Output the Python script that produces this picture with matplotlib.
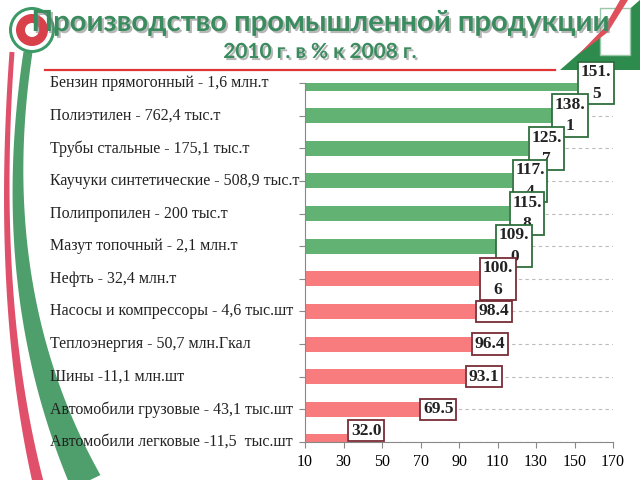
import numpy as np
import matplotlib
matplotlib.use("Agg")
import matplotlib.pyplot as plt
import matplotlib.patheffects as pe
from matplotlib.patches import Polygon, Ellipse, Rectangle
from matplotlib.lines import Line2D
from matplotlib.transforms import blended_transform_factory

# data: 2010 output in % of 2008
products = [
    "Бензин прямогонный - 1,6 млн.т",
    "Полиэтилен - 762,4 тыс.т",
    "Трубы стальные - 175,1 тыс.т",
    "Каучуки синтетические - 508,9 тыс.т",
    "Полипропилен - 200 тыс.т",
    "Мазут топочный - 2,1 млн.т",
    "Нефть - 32,4 млн.т",
    "Насосы и компрессоры - 4,6 тыс.шт",
    "Теплоэнергия - 50,7 млн.Гкал",
    "Шины -11,1 млн.шт",
    "Автомобили грузовые - 43,1 тыс.шт",
    "Автомобили легковые -11,5  тыс.шт",
]
percent = [151.5, 138.1, 125.7, 117.4, 115.8, 109.0, 100.6, 98.4, 96.4, 93.1, 69.5, 32.0]
xticks = [10, 30, 50, 70, 90, 110, 130, 150, 170]

GREEN = "#62B273"
RED = "#F87C7E"
GREEN_EDGE = "#2F6E3C"
RED_EDGE = "#7A2C36"
TITLE_GREEN = "#3A8C5E"

W, H = 640, 480


def px(x, y):
    # pixel coords (from top-left) -> figure fraction
    return (x / W, 1 - y / H)


fig = plt.figure(figsize=(6.4, 4.8), dpi=100)
fig.patch.set_facecolor("white")

# --- decorations -----------------------------------------------------------
def stripe(p0, p1, p2, w0, w1, color):
    t = np.linspace(0, 1, 60)
    p0, p1, p2 = map(np.array, (p0, p1, p2))
    pts = ((1 - t) ** 2)[:, None] * p0 + (2 * (1 - t) * t)[:, None] * p1 + (t ** 2)[:, None] * p2
    d = np.gradient(pts, axis=0)
    n = np.stack([-d[:, 1], d[:, 0]], axis=1)
    n /= np.linalg.norm(n, axis=1)[:, None]
    w = (w0 + (w1 - w0) * t ** 2)[:, None] / 2
    outline = np.vstack([pts + n * w, (pts - n * w)[::-1]])
    fig.patches.append(Polygon([px(x, y) for x, y in outline], closed=True,
                               transform=fig.transFigure, color=color, lw=0))


stripe((12, 52), (-6, 300), (38, 482), 5, 11, "#E0506A")
stripe((28, 52), (-8, 290), (86, 482), 9, 32, "#4E9F6C")

# emblem
cx, cy = px(32, 30)
for r, c in [(23, "#3C9A66"), (20, "white"), (16, "#D8404A"), (7, "white")]:
    fig.patches.append(Ellipse((cx, cy), 2 * r / W, 2 * r / H,
                               transform=fig.transFigure, color=c, lw=0))

# top-right corner
fig.patches.append(Polygon([px(560, 70), px(641, 70), px(641, -1)], closed=True,
                           transform=fig.transFigure, color="#2E8B4E", lw=0))
fig.patches.append(Rectangle(px(600, 55), 30 / W, 47 / H, transform=fig.transFigure,
                             facecolor="white", edgecolor="#9BC8A8", lw=1))
fig.patches.append(Polygon([px(578, 55), px(604, 28), px(620, 0), px(628, 0),
                            px(608, 32)], closed=True,
                           transform=fig.transFigure, color="#E0505A", lw=0))

# title
shadow = [pe.SimplePatchShadow(offset=(1.5, -1.5), shadow_rgbFace="#888888", alpha=0.6),
          pe.Normal()]
fig.text(0.5, 1 - 23 / H, "Производство промышленной продукции", ha="center",
         va="center", fontsize=21, fontweight="bold", family="Lato",
         color=TITLE_GREEN, path_effects=shadow, zorder=5)
fig.text(0.5, 1 - 52 / H, "2010 г. в % к 2008 г.", ha="center", va="center",
         fontsize=15, fontweight="bold", family="Lato", color=TITLE_GREEN,
         path_effects=shadow, zorder=5)
fig.lines.append(Line2D([45 / W, 555 / W], [1 - 70 / H] * 2, transform=fig.transFigure,
                        color="#E03535", lw=1.6))

# --- chart -----------------------------------------------------------------
ax = fig.add_axes([305 / W, 1 - 442 / H, 308 / W, 359 / H])
ax.set_zorder(3)
ax.patch.set_alpha(0)
y = np.arange(len(products))
colors = [GREEN if v > 105 else RED for v in percent]
edges = [GREEN_EDGE if v > 105 else RED_EDGE for v in percent]

ax.barh(y, percent, height=0.46, color=colors, zorder=2)
ax.set_xlim(10, 170)
ax.set_ylim(len(products) - 1, 0)
ax.set_xticks(xticks)
ax.set_xticklabels([str(t) for t in xticks], family="Liberation Serif", fontsize=11.5)
ax.set_yticks(y)
ax.set_yticklabels([])
ax.tick_params(axis="both", direction="out", length=4, color="#888888")
ax.tick_params(axis="x", pad=5)
ax.yaxis.grid(True, linestyle=(0, (3, 3)), color="#BBBBBB", lw=0.8, zorder=0)
ax.set_axisbelow(True)
for s in ["top", "right"]:
    ax.spines[s].set_visible(False)
for s in ["left", "bottom"]:
    ax.spines[s].set_color("#888888")

trans = blended_transform_factory(fig.transFigure, ax.transData)
for i, name in enumerate(products):
    ax.text(50 / W, i, name, transform=trans, ha="left", va="center",
            family="Liberation Serif", fontsize=11.5, color="#222222")

for i, v in enumerate(percent):
    s = f"{v:.1f}"
    if v >= 100:
        a, b = s.split(".")
        s = a + ".\n" + b
    dy = 8 if i == len(percent) - 1 else 0
    ax.annotate(s, xy=(v, i), xytext=(2.5, dy), textcoords="offset points",
                ha="left", va="center", multialignment="center",
                family="Liberation Serif", fontsize=12.5,
                fontweight="bold", color="#222222", linespacing=1.45,
                bbox=dict(boxstyle="square,pad=0.15", fc="white", ec=edges[i], lw=1.3),
                zorder=5, annotation_clip=False)

fig.savefig("out.png", dpi=100)
